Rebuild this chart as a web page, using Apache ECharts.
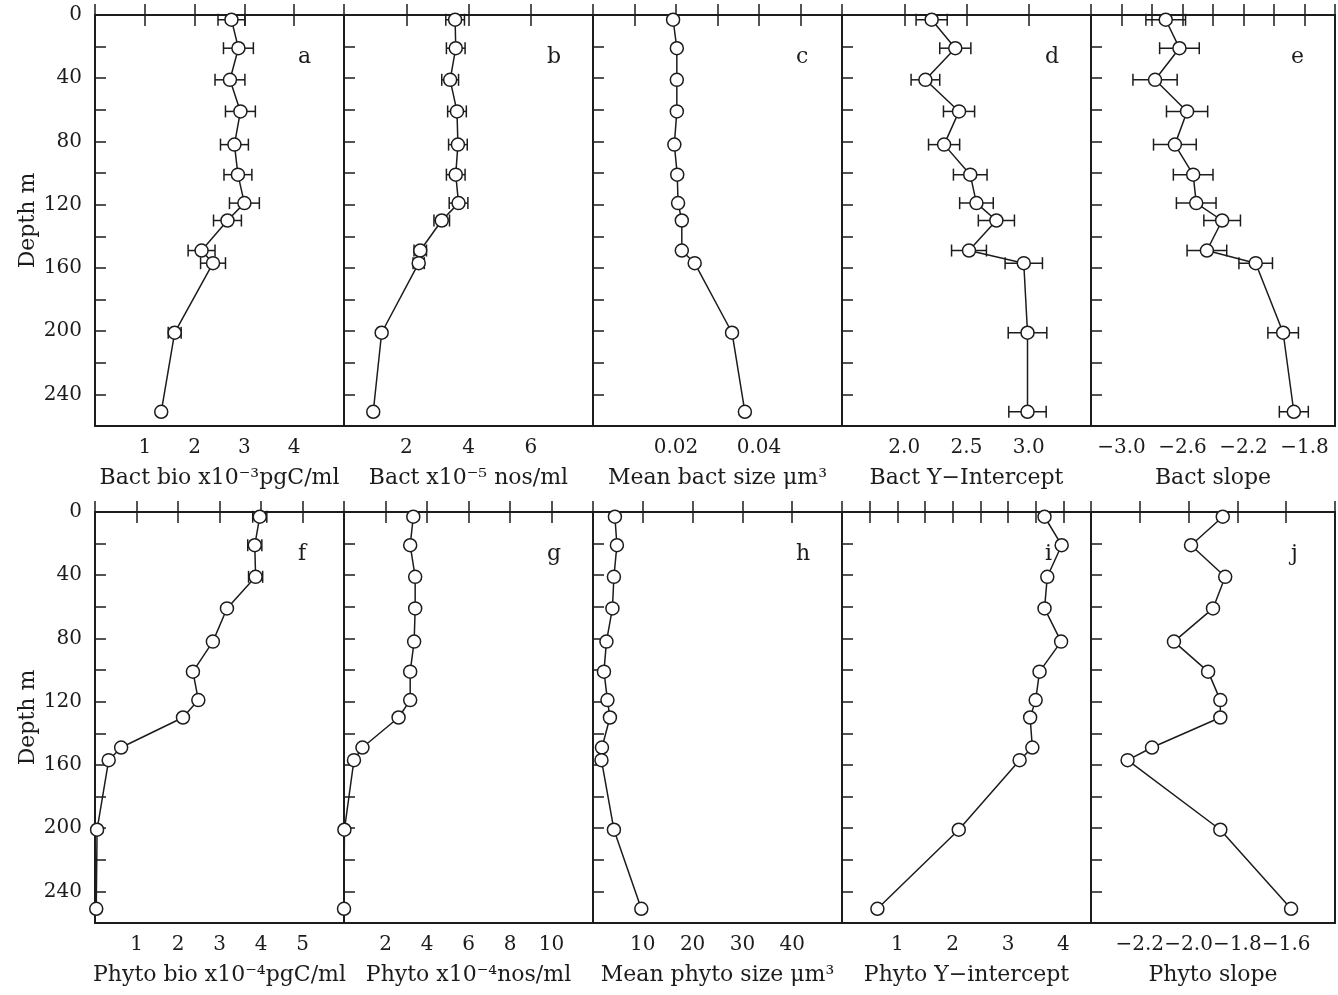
<!DOCTYPE html>
<html>
<head>
<meta charset="utf-8">
<title>Depth profiles</title>
<script src="https://cdn.jsdelivr.net/npm/echarts@6/dist/echarts.min.js"></script>
<style>
  html, body { margin: 0; padding: 0; background: #fff; }
  #chart { width: 1338px; height: 995px; }
</style>
</head>
<body>
<div id="chart"></div>
<script>
// sampling depths (m), same for every panel
const depths = [3, 21, 41, 61, 82, 101, 119, 130, 149, 157, 201, 251]
const depthLabels = [0, 40, 80, 120, 160, 200, 240]

// top row: bacteria
const bactBio = [2.74, 2.88, 2.71, 2.92, 2.80, 2.87, 3.00, 2.66, 2.14, 2.37, 1.60, 1.33]
const bactBioErr = [0.27, 0.30, 0.30, 0.30, 0.28, 0.28, 0.30, 0.28, 0.27, 0.25, 0.13, 0.06]
const bactNum = [3.57, 3.59, 3.41, 3.63, 3.66, 3.59, 3.68, 3.14, 2.45, 2.40, 1.21, 0.94]
const bactNumErr = [0.30, 0.30, 0.27, 0.30, 0.30, 0.30, 0.30, 0.25, 0.20, 0.18, 0.10, 0.10]
const bactSize = [0.0193, 0.0202, 0.0202, 0.0202, 0.0196, 0.0203, 0.0205, 0.0214, 0.0214, 0.0245, 0.0335, 0.0366]
const bactIcpt = [2.22, 2.41, 2.17, 2.44, 2.32, 2.53, 2.58, 2.74, 2.52, 2.96, 2.99, 2.99]
const bactIcptErr = [0.125, 0.125, 0.115, 0.125, 0.125, 0.135, 0.135, 0.145, 0.14, 0.15, 0.155, 0.15]
const bactSlope = [-2.71, -2.62, -2.78, -2.57, -2.65, -2.53, -2.51, -2.34, -2.44, -2.12, -1.94, -1.87]
const bactSlopeErr = [0.13, 0.13, 0.145, 0.135, 0.14, 0.13, 0.13, 0.12, 0.13, 0.11, 0.10, 0.095]

// bottom row: phytoplankton
const phytoBio = [3.97, 3.85, 3.87, 3.18, 2.84, 2.36, 2.49, 2.12, 0.63, 0.33, 0.05, 0.03]
const phytoBioErr = [0.17, 0.17, 0.17, 0, 0, 0, 0, 0, 0, 0, 0, 0]
const phytoNum = [3.34, 3.19, 3.43, 3.43, 3.38, 3.19, 3.19, 2.63, 0.89, 0.48, 0.02, 0.0]
const phytoSize = [4.4, 4.8, 4.2, 3.9, 2.7, 2.2, 2.9, 3.4, 1.8, 1.7, 4.2, 9.7]
const phytoIcpt = [3.66, 3.97, 3.71, 3.66, 3.96, 3.57, 3.50, 3.40, 3.44, 3.21, 2.11, 0.64]
const phytoSlope = [-1.86, -1.99, -1.85, -1.90, -2.06, -1.92, -1.87, -1.87, -2.15, -2.25, -1.87, -1.58]

// x tick labels shown on each panel
const bactBioLabels = ['1', '2', '3', '4']
const bactNumLabels = ['2', '4', '6']
const bactSizeLabels = ['0.02', '0.04']
const bactIcptLabels = ['2.0', '2.5', '3.0']
const bactSlopeLabels = ['-3.0', '-2.6', '-2.2', '-1.8']
const phytoBioLabels = ['1', '2', '3', '4', '5']
const phytoNumLabels = ['2', '4', '6', '8', '10']
const phytoSizeLabels = ['10', '20', '30', '40']
const phytoIcptLabels = ['1', '2', '3', '4']
const phytoSlopeLabels = ['-2.2', '-2.0', '-1.8', '-1.6']

const ink = '#1c1c1c'
const font = '"DejaVu Serif", serif'

const panels = [
  { letter: 'a', name: 'Bact bio x10⁻³pgC/ml', values: bactBio, err: bactBioErr, min: 0, max: 5, interval: 1, dec: 0, labels: bactBioLabels },
  { letter: 'b', name: 'Bact x10⁻⁵ nos/ml', values: bactNum, err: bactNumErr, min: 0, max: 8, interval: 2, dec: 0, labels: bactNumLabels },
  { letter: 'c', name: 'Mean bact size μm³', values: bactSize, err: null, min: 0, max: 0.06, interval: 0.01, dec: 2, labels: bactSizeLabels },
  { letter: 'd', name: 'Bact Y−Intercept', values: bactIcpt, err: bactIcptErr, min: 1.5, max: 3.5, interval: 0.5, dec: 1, labels: bactIcptLabels },
  { letter: 'e', name: 'Bact slope', values: bactSlope, err: bactSlopeErr, min: -3.2, max: -1.6, interval: 0.2, dec: 1, labels: bactSlopeLabels },
  { letter: 'f', name: 'Phyto bio x10⁻⁴pgC/ml', values: phytoBio, err: phytoBioErr, min: 0, max: 6, interval: 1, dec: 0, labels: phytoBioLabels },
  { letter: 'g', name: 'Phyto x10⁻⁴nos/ml', values: phytoNum, err: null, min: 0, max: 12, interval: 2, dec: 0, labels: phytoNumLabels },
  { letter: 'h', name: 'Mean phyto size μm³', values: phytoSize, err: null, min: 0, max: 50, interval: 10, dec: 0, labels: phytoSizeLabels },
  { letter: 'i', name: 'Phyto Y−intercept', values: phytoIcpt, err: null, min: 0, max: 4.5, interval: 0.5, dec: 0, labels: phytoIcptLabels },
  { letter: 'j', name: 'Phyto slope', values: phytoSlope, err: null, min: -2.4, max: -1.4, interval: 0.2, dec: 1, labels: phytoSlopeLabels }
]

// layout
const colLeft = [95, 344, 593, 842, 1091]
const colWidth = [249, 249, 249, 249, 246]
const rowTop = [15, 512]
const rowHeight = 411

const chart = echarts.init(document.getElementById('chart'))

const grid = []
const xAxis = []
const yAxis = []
const series = []
const graphic = []

const renderErrorBar = (params, api) => {
  const x = api.value(0)
  const y = api.value(1)
  const e = api.value(2)
  if (!e) return null
  const l = api.coord([x - e, y])
  const r = api.coord([x + e, y])
  const cap = 6
  const style = { stroke: ink, lineWidth: 1.5, fill: null }
  return {
    type: 'group',
    children: [
      { type: 'line', shape: { x1: l[0], y1: l[1], x2: r[0], y2: r[1] }, style },
      { type: 'line', shape: { x1: l[0], y1: l[1] - cap, x2: l[0], y2: l[1] + cap }, style },
      { type: 'line', shape: { x1: r[0], y1: r[1] - cap, x2: r[0], y2: r[1] + cap }, style }
    ]
  }
}

panels.forEach((p, i) => {
  const row = Math.floor(i / 5)
  const col = i % 5
  const left = colLeft[col]
  const top = rowTop[row]

  grid.push({
    left, top, width: colWidth[col], height: rowHeight,
    show: true, borderColor: ink, borderWidth: 2, backgroundColor: 'transparent'
  })

  // only label ticks that are exactly one of the listed values
  const fmt = (v) => {
    const s = v.toFixed(p.dec)
    if (Math.abs(parseFloat(s) - v) > 1e-9) return ''
    return p.labels.includes(s) ? s.replace('-', '−') : ''
  }

  const tick = { show: true, inside: true, length: 11, lineStyle: { color: ink, width: 1.5 } }

  // bottom axis with labels
  xAxis.push({
    type: 'value', gridIndex: i, position: 'bottom',
    min: p.min, max: p.max, interval: p.interval,
    name: p.name, nameLocation: 'middle', nameGap: 41,
    nameTextStyle: { fontFamily: font, fontSize: 22, color: ink },
    axisLine: { show: false },
    axisTick: tick,
    axisLabel: { show: true, margin: 12, formatter: fmt, fontFamily: font, fontSize: 20, color: ink, showMinLabel: true, showMaxLabel: true },
    splitLine: { show: false }
  })
  // top mirror ticks
  xAxis.push({
    type: 'value', gridIndex: i, position: 'top',
    min: p.min, max: p.max, interval: p.interval,
    axisLine: { show: false },
    axisTick: tick,
    axisLabel: { show: false },
    splitLine: { show: false }
  })

  yAxis.push({
    type: 'value', gridIndex: i, inverse: true,
    min: 0, max: 260, interval: 20,
    name: col === 0 ? 'Depth m' : '',
    nameLocation: 'middle', nameGap: 56, nameRotate: 90,
    nameTextStyle: { fontFamily: font, fontSize: 22, color: ink },
    axisLine: { show: false },
    axisTick: tick,
    axisLabel: {
      show: col === 0, margin: 13, fontFamily: font, fontSize: 20, color: ink,
      formatter: (v) => depthLabels.includes(v) ? String(v) : ''
    },
    splitLine: { show: false }
  })

  if (p.err) {
    series.push({
      type: 'custom',
      xAxisIndex: i * 2, yAxisIndex: i,
      renderItem: renderErrorBar,
      encode: { x: 0, y: 1 },
      data: depths.map((d, k) => [p.values[k], d, p.err[k]]),
      clip: false,
      silent: true,
      z: 2
    })
  }

  series.push({
    type: 'line',
    xAxisIndex: i * 2, yAxisIndex: i,
    data: depths.map((d, k) => [p.values[k], d]),
    symbol: 'circle', symbolSize: 13,
    itemStyle: { color: '#fff', borderColor: ink, borderWidth: 1.5 },
    lineStyle: { color: ink, width: 1.5 },
    clip: false,
    z: 3
  })

  graphic.push({
    type: 'text',
    left: left + colWidth[col] - 46,
    top: top + 31,
    style: { text: p.letter, font: '22px ' + font, fill: ink }
  })
})

chart.setOption({
  backgroundColor: '#fff',
  animation: false,
  grid, xAxis, yAxis, series, graphic
})
</script>
</body>
</html>
